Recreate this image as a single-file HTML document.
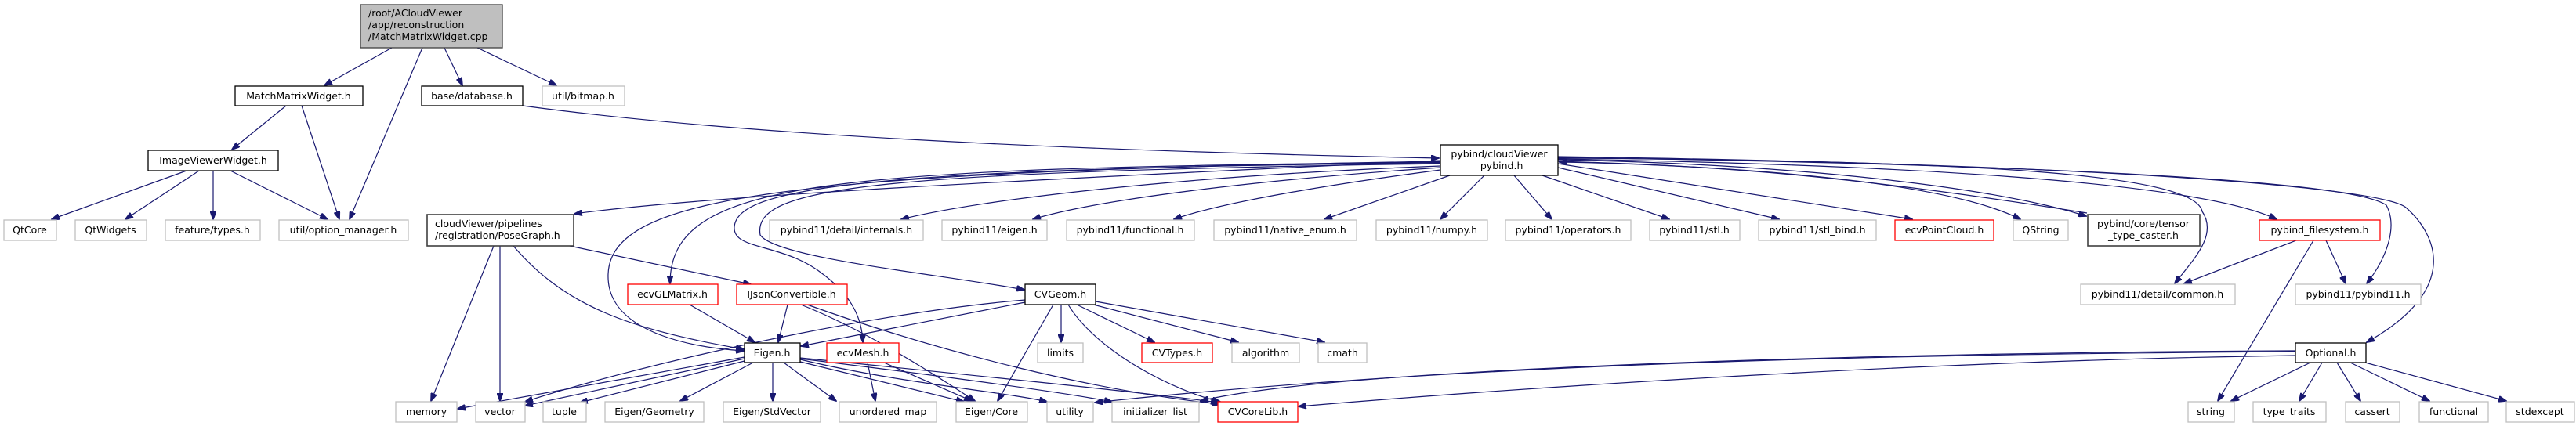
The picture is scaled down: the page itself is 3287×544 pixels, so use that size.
<!DOCTYPE html>
<html><head><meta charset="utf-8"><style>
html,body{margin:0;padding:0;background:#fff;}
svg{display:block}
text{font-family:"DejaVu Sans","Liberation Sans",sans-serif;font-size:12.5px;fill:#000;text-anchor:middle}
.g{fill:#fff;stroke:#bfbfbf;stroke-width:1.3}
.r{fill:#fff;stroke:#ff0000;stroke-width:1.3}
.b{fill:#fff;stroke:#000;stroke-width:1.3}
.d{fill:#fff;stroke:#404040;stroke-width:1.6}
path{fill:none;stroke:#191970;stroke-width:1.2}
</style></head><body>
<svg width="3287" height="544" viewBox="0 0 3287 544" xmlns="http://www.w3.org/2000/svg">
<defs><marker id="a" markerWidth="11" markerHeight="8" refX="10" refY="4" orient="auto" markerUnits="userSpaceOnUse"><path d="M0,0 L11,4 L0,8 Z" style="fill:#191970;stroke:#191970;stroke-width:1"/></marker></defs>
<g marker-end="url(#a)">
<!-- root -->
<path d="M500,61 L414,109"/>
<path d="M539,61 L446,280"/>
<path d="M567,61 L590,109"/>
<path d="M609,61 L710,109"/>
<path d="M365,135 L296,191"/>
<path d="M385,135 L433,280"/>
<path d="M667,135 C1000,180 1500,195 1836,202"/>
<path d="M238,218 L66,280"/>
<path d="M254,218 L160,280"/>
<path d="M272,218 L272,280"/>
<path d="M294,218 L418,280"/>
<!-- pybind out -->
<path d="M1838,205 C1300,230 900,250 733,273"/>
<path d="M1838,207 C1050,215 855,230 855,362"/>
<path d="M1838,206 C1000,220 780,250 776,350 C773,430 900,445 949,448"/>
<path d="M1838,208 C1100,215 940,240 937,290 C935,320 1000,310 1050,350 C1090,380 1100,410 1101,437"/>
<path d="M1838,209 C1100,220 960,240 970,300 C990,330 1200,350 1307,370"/>
<path d="M1838,212 C1500,225 1250,255 1150,280"/>
<path d="M1838,214 C1600,230 1400,255 1318,280"/>
<path d="M1838,217 C1700,235 1560,258 1498,280"/>
<path d="M1850,224 L1690,280"/>
<path d="M1894,224 L1838,280"/>
<path d="M1932,224 L1980,280"/>
<path d="M1968,224 L2130,280"/>
<path d="M1988,214 L2270,280"/>
<path d="M1988,209 L2440,280"/>
<path d="M1988,206 C2300,215 2500,240 2578,280"/>
<path d="M1988,204 C2300,210 2550,240 2662,276"/>
<path d="M2663,272 C2400,230 2200,210 1990,207"/>
<path d="M1988,203 C2400,210 2800,230 2905,280"/>
<path d="M1988,202 C2500,205 2800,220 2810,270 C2830,300 2800,330 2775,362"/>
<path d="M1988,201 C2600,210 3000,230 3045,262 C3060,290 3045,330 3020,362"/>
<path d="M1988,200 C2700,210 3040,240 3070,265 C3110,300 3140,370 3020,437"/>
<!-- PoseGraph -->
<path d="M630,314 L550,512"/>
<path d="M638,314 L638,512"/>
<path d="M655,314 C720,390 800,420 949,446"/>
<path d="M727,314 L958,363"/>
<path d="M880,389 L963,437"/>
<!-- IJson -->
<path d="M1005,389 L993,437"/>
<path d="M1022,389 C1100,420 1180,470 1244,512"/>
<path d="M1030,389 C1200,450 1400,500 1557,516"/>
<!-- CVGeom -->
<path d="M1308,383 C1100,400 800,470 670,513"/>
<path d="M1308,386 L1022,442"/>
<path d="M1344,389 L1273,512"/>
<path d="M1354,389 L1354,437"/>
<path d="M1363,389 C1400,450 1500,500 1557,513"/>
<path d="M1374,389 L1473,437"/>
<path d="M1395,389 L1580,437"/>
<path d="M1398,385 L1690,437"/>
<!-- Eigen.h -->
<path d="M950,456 L584,522"/>
<path d="M950,458 L670,518"/>
<path d="M950,461 L740,514"/>
<path d="M961,463 L868,512"/>
<path d="M986,463 L986,512"/>
<path d="M1000,463 L1067,512"/>
<path d="M1021,462 L1230,513"/>
<path d="M1021,459 C1150,490 1280,500 1336,513"/>
<path d="M1021,458 C1200,480 1350,500 1419,513"/>
<path d="M1021,457 C1200,475 1450,500 1555,514"/>
<!-- ecvMesh -->
<path d="M1107,463 L1117,512"/>
<path d="M1128,463 L1240,512"/>
<!-- Optional -->
<path d="M2929,449 C2500,452 1900,460 1397,514"/>
<path d="M2929,448 C2400,450 1700,470 1532,512"/>
<path d="M2929,454 C2500,460 2000,490 1657,519"/>
<path d="M2948,463 L2847,512"/>
<path d="M2963,463 L2934,512"/>
<path d="M2982,463 L3012,512"/>
<path d="M2999,463 L3100,512"/>
<path d="M3018,463 L3198,512"/>
<!-- pybind_filesystem -->
<path d="M2930,307 L2787,362"/>
<path d="M2952,307 L2830,512"/>
<path d="M2968,307 L2993,362"/>
</g>
<!-- nodes -->
<rect x="460" y="6" width="181" height="55" style="fill:#bfbfbf;stroke:#404040;stroke-width:1.3"/>
<text x="470" y="21" style="text-anchor:start">/root/ACloudViewer</text>
<text x="470" y="36" style="text-anchor:start">/app/reconstruction</text>
<text x="470" y="51" style="text-anchor:start">/MatchMatrixWidget.cpp</text>

<rect class="b" x="300" y="110" width="163" height="25"/><text x="381" y="127">MatchMatrixWidget.h</text>
<rect class="b" x="538" y="110" width="129" height="25"/><text x="602" y="127">base/database.h</text>
<rect class="g" x="692" y="110" width="105" height="25"/><text x="744" y="127">util/bitmap.h</text>
<rect class="b" x="189" y="192" width="166" height="26"/><text x="272" y="209">ImageViewerWidget.h</text>

<rect class="g" x="5" y="281" width="67" height="26"/><text x="38" y="298">QtCore</text>
<rect class="g" x="96" y="281" width="91" height="26"/><text x="141" y="298">QtWidgets</text>
<rect class="g" x="211" y="281" width="121" height="26"/><text x="271" y="298">feature/types.h</text>
<rect class="g" x="356" y="281" width="165" height="26"/><text x="438" y="298">util/option_manager.h</text>

<rect class="d" x="545" y="274" width="187" height="40"/>
<text x="555" y="290" style="text-anchor:start">cloudViewer/pipelines</text>
<text x="555" y="305" style="text-anchor:start">/registration/PoseGraph.h</text>

<rect class="b" x="1838" y="185" width="150" height="39"/>
<text x="1913" y="201">pybind/cloudViewer</text>
<text x="1913" y="216">_pybind.h</text>

<rect class="g" x="982" y="281" width="196" height="26"/><text x="1080" y="298">pybind11/detail/internals.h</text>
<rect class="g" x="1202" y="281" width="134" height="26"/><text x="1269" y="298">pybind11/eigen.h</text>
<rect class="g" x="1361" y="281" width="163" height="26"/><text x="1442" y="298">pybind11/functional.h</text>
<rect class="g" x="1549" y="281" width="182" height="26"/><text x="1640" y="298">pybind11/native_enum.h</text>
<rect class="g" x="1756" y="281" width="142" height="26"/><text x="1827" y="298">pybind11/numpy.h</text>
<rect class="g" x="1921" y="281" width="160" height="26"/><text x="2001" y="298">pybind11/operators.h</text>
<rect class="g" x="2105" y="281" width="115" height="26"/><text x="2162" y="298">pybind11/stl.h</text>
<rect class="g" x="2244" y="281" width="150" height="26"/><text x="2319" y="298">pybind11/stl_bind.h</text>
<rect class="r" x="2418" y="281" width="126" height="26"/><text x="2481" y="298">ecvPointCloud.h</text>
<rect class="g" x="2569" y="281" width="70" height="26"/><text x="2604" y="298">QString</text>
<rect class="d" x="2664" y="274" width="143" height="40"/>
<text x="2735" y="290">pybind/core/tensor</text>
<text x="2735" y="305">_type_caster.h</text>
<rect class="r" x="2883" y="281" width="154" height="26"/><text x="2960" y="298">pybind_filesystem.h</text>

<rect class="r" x="801" y="363" width="115" height="26"/><text x="858" y="380">ecvGLMatrix.h</text>
<rect class="r" x="940" y="363" width="141" height="26"/><text x="1010" y="380">IJsonConvertible.h</text>
<rect class="b" x="1308" y="363" width="90" height="26"/><text x="1353" y="380">CVGeom.h</text>
<rect class="g" x="2655" y="363" width="197" height="26"/><text x="2753" y="380">pybind11/detail/common.h</text>
<rect class="g" x="2929" y="363" width="160" height="26"/><text x="3009" y="380">pybind11/pybind11.h</text>

<rect class="b" x="950" y="438" width="71" height="25"/><text x="985" y="455">Eigen.h</text>
<rect class="r" x="1055" y="438" width="92" height="25"/><text x="1101" y="455">ecvMesh.h</text>
<rect class="g" x="1324" y="438" width="58" height="25"/><text x="1353" y="455">limits</text>
<rect class="r" x="1457" y="438" width="90" height="25"/><text x="1502" y="455">CVTypes.h</text>
<rect class="g" x="1572" y="438" width="86" height="25"/><text x="1615" y="455">algorithm</text>
<rect class="g" x="1682" y="438" width="62" height="25"/><text x="1713" y="455">cmath</text>
<rect class="b" x="2929" y="438" width="90" height="25"/><text x="2974" y="455">Optional.h</text>

<rect class="g" x="505" y="513" width="78" height="26"/><text x="544" y="530">memory</text>
<rect class="g" x="607" y="513" width="63" height="26"/><text x="638" y="530">vector</text>
<rect class="g" x="693" y="513" width="55" height="26"/><text x="720" y="530">tuple</text>
<rect class="g" x="772" y="513" width="126" height="26"/><text x="835" y="530">Eigen/Geometry</text>
<rect class="g" x="923" y="513" width="124" height="26"/><text x="985" y="530">Eigen/StdVector</text>
<rect class="g" x="1071" y="513" width="124" height="26"/><text x="1133" y="530">unordered_map</text>
<rect class="g" x="1220" y="513" width="91" height="26"/><text x="1265" y="530">Eigen/Core</text>
<rect class="g" x="1336" y="513" width="59" height="26"/><text x="1365" y="530">utility</text>
<rect class="g" x="1419" y="513" width="111" height="26"/><text x="1474" y="530">initializer_list</text>
<rect class="r" x="1554" y="513" width="102" height="26"/><text x="1605" y="530">CVCoreLib.h</text>
<rect class="g" x="2792" y="513" width="59" height="26"/><text x="2821" y="530">string</text>
<rect class="g" x="2875" y="513" width="93" height="26"/><text x="2921" y="530">type_traits</text>
<rect class="g" x="2993" y="513" width="69" height="26"/><text x="3027" y="530">cassert</text>
<rect class="g" x="3087" y="513" width="88" height="26"/><text x="3131" y="530">functional</text>
<rect class="g" x="3198" y="513" width="87" height="26"/><text x="3241" y="530">stdexcept</text>
</svg>
</body></html>
